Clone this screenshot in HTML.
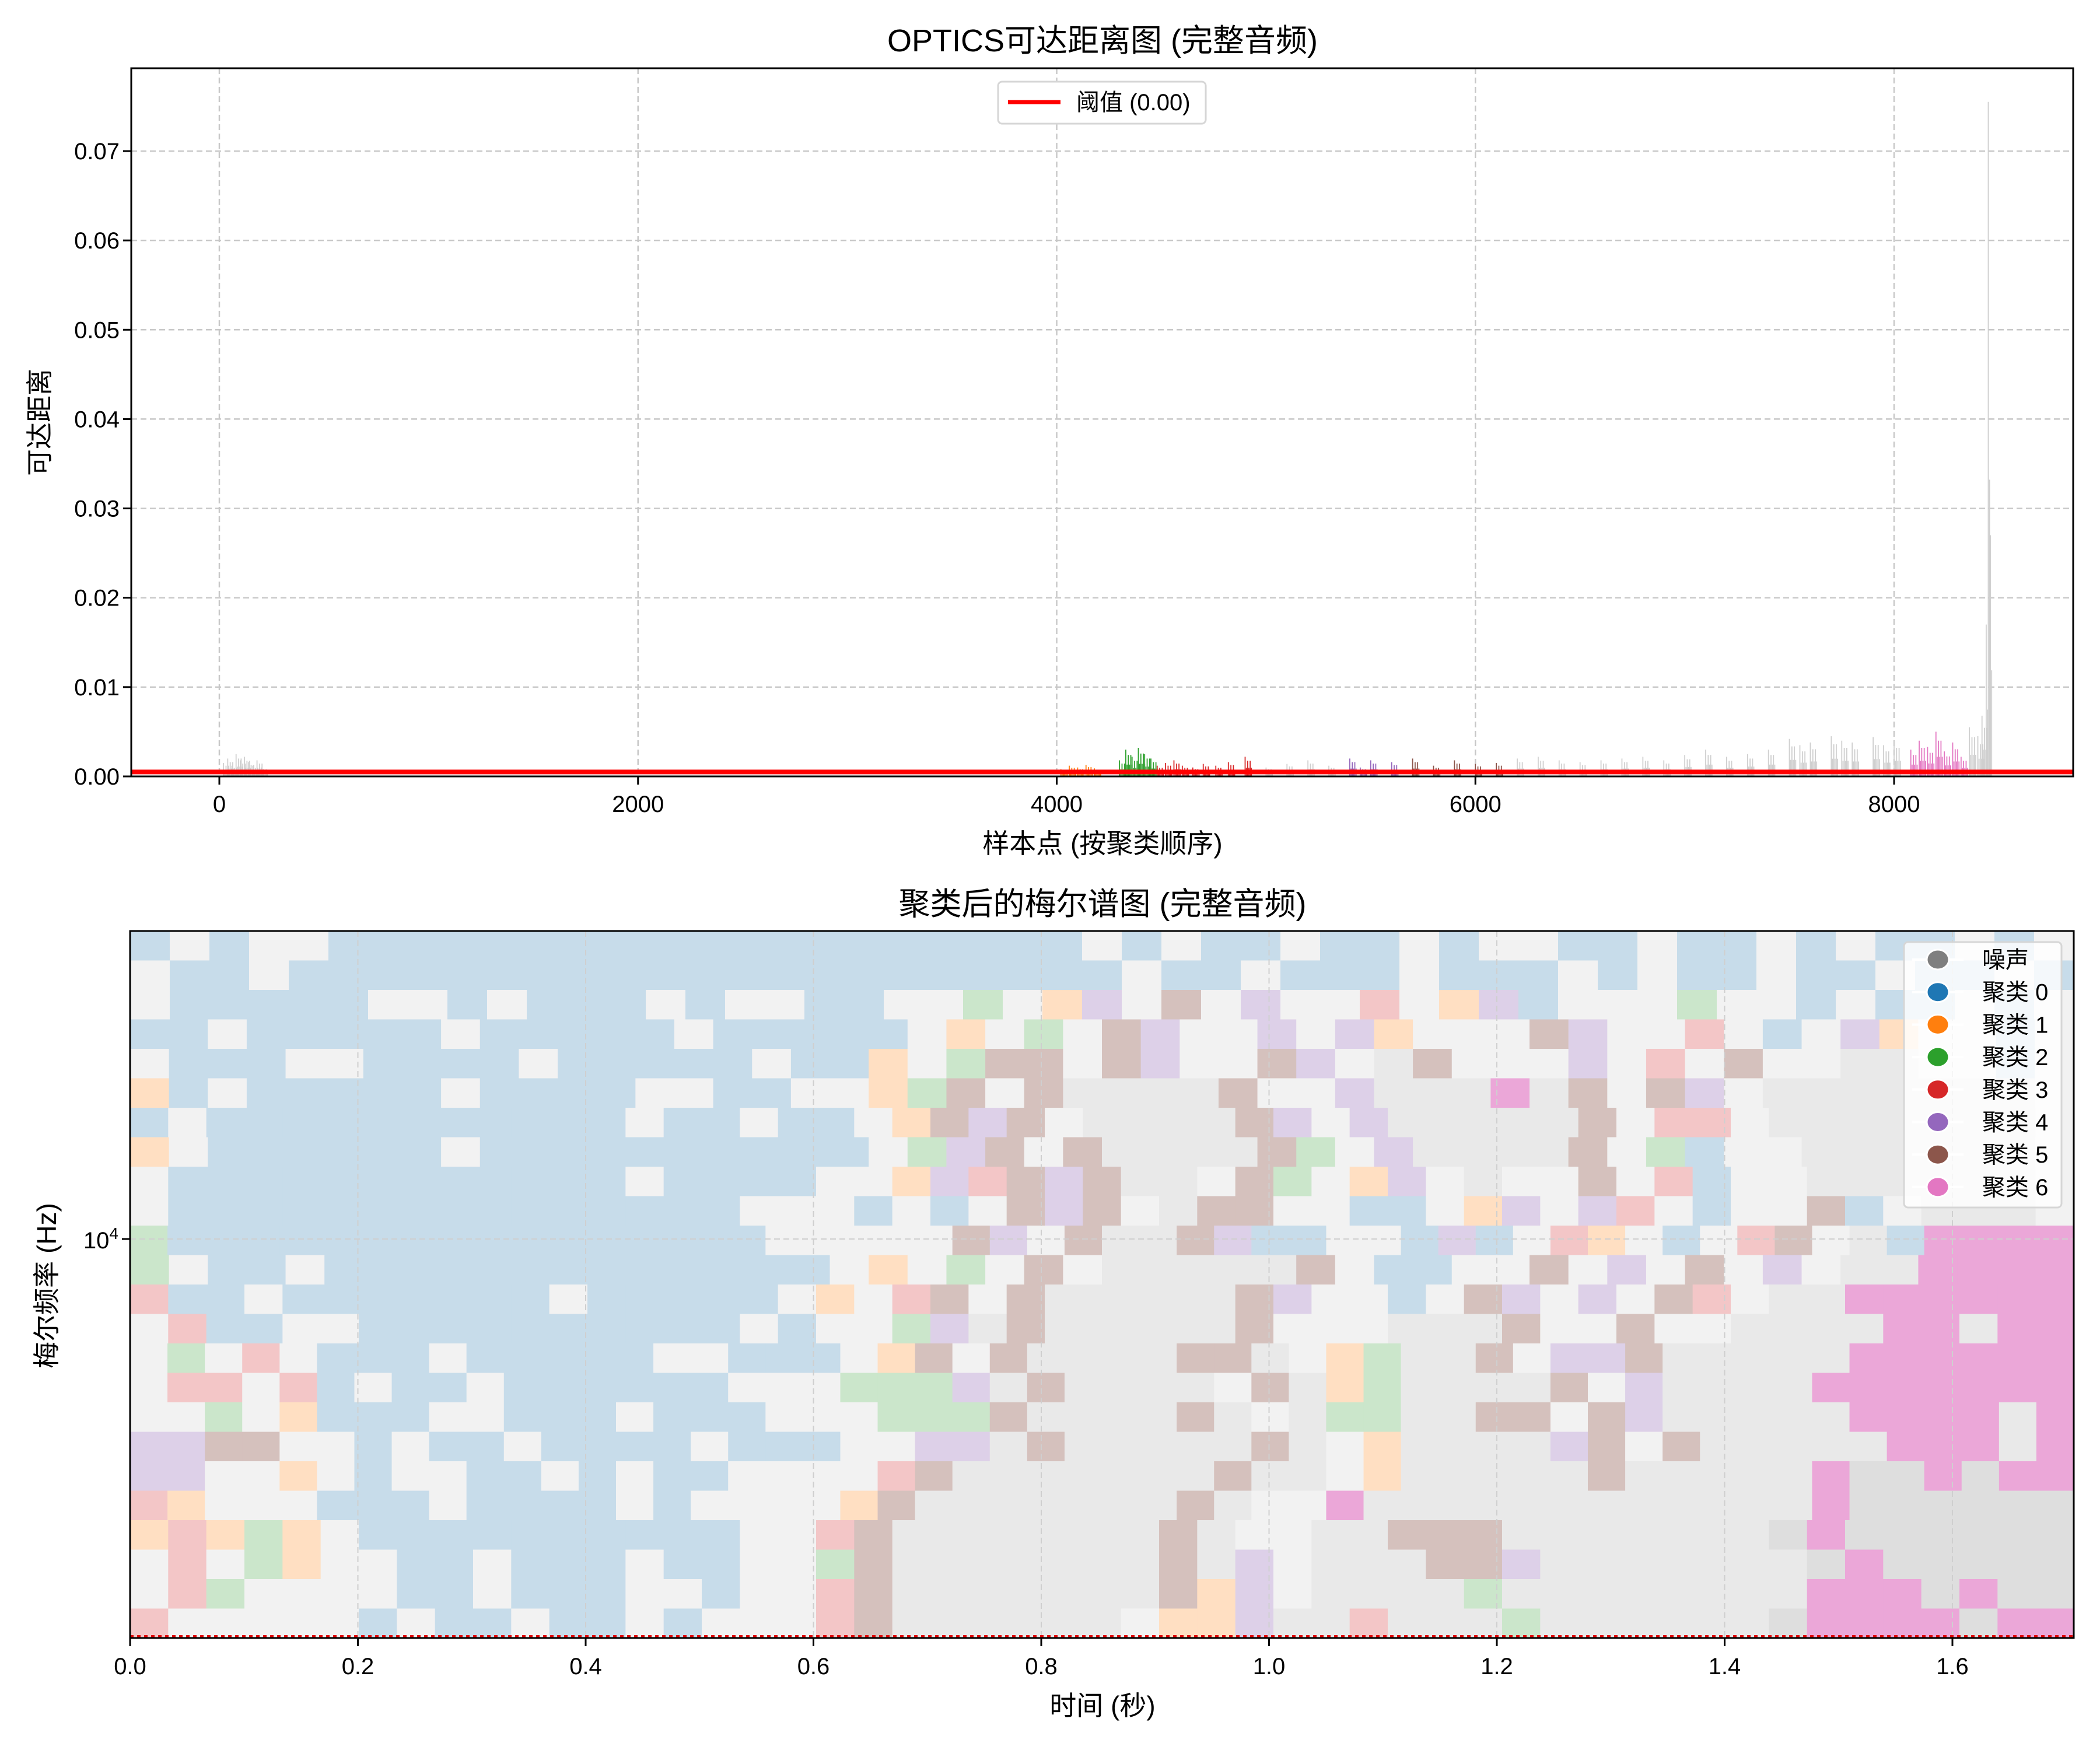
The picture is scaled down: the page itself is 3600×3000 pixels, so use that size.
<!DOCTYPE html>
<html><head><meta charset="utf-8">
<style>
html,body{margin:0;padding:0;background:#fff;}
svg{display:block;font-family:"Liberation Sans","Noto Sans CJK SC",sans-serif;}
</style></head>
<body>
<svg id="fig" width="3600" height="3000" viewBox="0 0 3600 3000" xmlns="http://www.w3.org/2000/svg"></svg>
<script>
// ---------- top chart data ----------
const reachIdx = [20,40,60,80,100,120,140,160,180,200,
 4020,4060,4100,4140,4180,4300,4330,4360,4390,4420,4450,4480,4520,4560,4600,4650,4700,4760,4820,4900,
 5000,5100,5200,5300,5400,5450,5500,5600,5700,5800,5900,6000,6100,6200,6300,6400,6500,6600,6700,6800,6900,7000,7100,7200,7300,7400,7500,7550,7600,7700,7750,7800,7900,7950,8000,
 8080,8120,8160,8200,8240,8280,8320,8360,8400,8420,8440,8450,8460];
const reachVal = [0.0015,0.002,0.0012,0.0025,0.0018,0.0022,0.0016,0.0012,0.0018,0.0010,
 0.0008,0.0012,0.0010,0.0013,0.0009,0.0018,0.0030,0.0022,0.0032,0.0025,0.0020,0.0012,0.0015,0.0018,0.0012,0.0010,0.0014,0.0012,0.0016,0.0022,
 0.0010,0.0014,0.0018,0.0012,0.0020,0.0010,0.0018,0.0016,0.0020,0.0012,0.0018,0.0014,0.0015,0.0020,0.0022,0.0018,0.0016,0.0018,0.0020,0.0022,0.0018,0.0024,0.0030,0.0022,0.0025,0.0030,0.0042,0.0035,0.0038,0.0045,0.0040,0.0038,0.0044,0.0035,0.0040,
 0.0030,0.0040,0.0033,0.0050,0.0028,0.0038,0.0022,0.0055,0.0045,0.0068,0.0170,0.0755,0.0270];
const reachCls = [-1,-1,-1,-1,-1,-1,-1,-1,-1,-1,
 1,1,1,1,1,2,2,2,2,2,2,3,3,3,3,3,3,3,3,3,
 -1,-1,-1,-1,4,4,4,4,5,5,5,5,5,-1,-1,-1,-1,-1,-1,-1,-1,-1,-1,-1,-1,-1,-1,-1,-1,-1,-1,-1,-1,-1,-1,
 6,6,6,6,6,6,6,-1,-1,-1,-1,-1,-1];
const threshold = 0.0005;
const topXTicks = [0,2000,4000,6000,8000];
const topYTicks = [0.00,0.01,0.02,0.03,0.04,0.05,0.06,0.07];

// ---------- bottom chart data ----------
const timeTicks = [0.0,0.2,0.4,0.6,0.8,1.0,1.2,1.4,1.6];
const clusterNames = ["噪声","聚类 0","聚类 1","聚类 2","聚类 3","聚类 4","聚类 5","聚类 6"];
const clusterColors = ["#7f7f7f","#1f77b4","#ff7f0e","#2ca02c","#d62728","#9467bd","#8c564b","#e377c2"];
const labelGrid = [
"bwbwwbbbbbbbbbbbbbbbbbbbwbwbbwbbwbwwbbwbbwbwbbwbw",
"wbbwbbbbbbbbbbbbbbbbbbbbbwbbwbbbwbbbwbwbbwbbwbbwb",
"wbbbbbwwbwbbbwbwwbbwwewouwnwuwwrwoubwwwewwbwbbwbw",
"bbwbbbbbwbbbbbwbbbbbwowewnuwwuwuowwwnuwwrwbwuowwbw",
"wbbbwwbbbbwbbbbbwbbowennwnuwwnuwgnwwwuwrwnwwggwwbw",
"obwbbbbbwbbbbwwbbwwoenwnggggnwwugggpgnwnuwgggggggw",
"bwbbbbbbbbbbbwbbwbbwonunwggggnuwugggggnwrrwgggggggw",
"owbbbbbbwbbbbbbbbbbweunwnggggnewuggggnwebwwggggggw",
"wbbbbbbbbbbbbwbbbbwwournunggwnewouwgwwnwrbwwggggggw",
"wbbbbbbbbbbbbbbbwwwbwbwnunwgnnwwbbwouwurwbwwnbwgggw",
"ebbbbbbbbbbbbbbbbwwwwwnuwnggnubbwwbubwrowbwrnwgbpppp",
"ewbbwbbbbbbbbbbbbbwowewnwgggggnwbbwwnwuwnwuwggpppp",
"rbbwbbbbbbbwbbbbbwowrnwngggggnuwwbwnuwuwnrwggpppppp",
"wrbbwwbbbbbbbbbbwbwweugngggggnwwwgggnwwnwwggggppgpp",
"wewrwbbbwbbbbbwwbbbwonwnggggnngwoeggnwuungggggpppppp",
"wrrwrbwbbwbbbbbbwwweeeugnggggwngoeggggnwuggggppppppp",
"wwewobbbwwbbbwbbbwwweeenggggngwgeeggnnwnugggggppppgp",
"uunnwwbwbbwbbbbwbbbwwuugngggggngwoggggunwngggggpppgp",
"uuwwowbwwbbwbwbbwwwwrngggggggnggwogggggngggggpGGpGpp",
"rowwwbbbwbbbbwbwwwwongggggggngwwpggggggggggggpGGGGGG",
"oroeowbbbbbbbbbbwwrngggggggngwwggnnngggggggGpGGGGGG",
"wrweowwbbwbbbwbbwwengggggggnguwgggnnugggggggGpGGGGG",
"wrewwwwbbwbbbwwbwwrngggggggnouwggggeggggggggpppGpGG",
"rwwwwwbwbbwbbwbwwwrnggggggwoouggrgggeggggggGppppGpp"];
const cellFill = {w:"#f2f2f2",b:"#c7dcea",g:"#e9e9e9",G:"#dedede",n:"#d5c1bd",p:"#eba7d8",o:"#ffdfc2",e:"#cbe6cb",u:"#ddd0e8",r:"#f3c6c7"};

// ---------- drawing ----------
const NS="http://www.w3.org/2000/svg";
const svg=document.getElementById('fig');
function mk(tag,attrs,parent){const e=document.createElementNS(NS,tag);for(const k in attrs)e.setAttribute(k,attrs[k]);(parent||svg).appendChild(e);return e;}

const T={l:225,r:3554,t:117,b:1331};
const xT=v=>376+(v-0)*(3247-376)/8000;
const yT=v=>1331-v*(1331-259)/0.07;

let title1=mk('text',{x:1890,y:88,'font-size':54,'text-anchor':'middle',fill:'#000'});
title1.textContent="OPTICS可达距离图 (完整音频)";



const topGrid=mk('g',{});


topXTicks.forEach(v=>{mk('line',{x1:xT(v),x2:xT(v),y1:T.t,y2:T.b,stroke:'#c8c8c8','stroke-width':2.5,'stroke-dasharray':'10,6'},topGrid);});
topYTicks.forEach(v=>{mk('line',{x1:T.l,x2:T.r,y1:yT(v),y2:yT(v),stroke:'#c8c8c8','stroke-width':2.5,'stroke-dasharray':'10,6'},topGrid);});

const bars=mk('g',{});


reachIdx.forEach((ix,i)=>{
  const c=reachCls[i];
  const col=c<0?'#cfcfcf':clusterColors[c+1];
  const n=reachVal[i]>0.01?2:6;
  for(let k=0;k<n;k++){
    const xi=ix+k*6;
    const h=reachVal[i]*(k%2?0.55:1)*(k===0?1:0.8);
    const b=mk('line',{x1:xT(xi),x2:xT(xi),y1:yT(0),y2:yT(h),stroke:col,'stroke-width':1.8},bars);
    
    
  }
});
const th=mk('line',{x1:T.l,x2:T.r,y1:yT(threshold),y2:yT(threshold),stroke:'#ff0000','stroke-width':8});



let frame1=mk('rect',{x:T.l,y:T.t,width:T.r-T.l,height:T.b-T.t,fill:'none',stroke:'#000','stroke-width':3});



topXTicks.forEach(v=>{
  mk('line',{x1:xT(v),x2:xT(v),y1:T.b,y2:T.b+14,stroke:'#000','stroke-width':3});
  const t=mk('text',{x:xT(v),y:1392,'font-size':40,'text-anchor':'middle'});t.textContent=String(v);
  
  
});
topYTicks.forEach(v=>{
  mk('line',{x1:T.l-14,x2:T.l,y1:yT(v),y2:yT(v),stroke:'#000','stroke-width':3});
  const t=mk('text',{x:T.l-20,y:yT(v)+14,'font-size':40,'text-anchor':'end'});t.textContent=v.toFixed(2);
  
  
});
let xl1=mk('text',{x:1890,y:1462,'font-size':46,'text-anchor':'middle'});xl1.textContent="样本点 (按聚类顺序)";


let yl1=mk('text',{x:0,y:0,'font-size':46,'text-anchor':'middle',transform:'translate(84,724) rotate(-90)'});yl1.textContent="可达距离";



const lg1=mk('g',{});


mk('rect',{x:1711,y:140,width:356,height:72,rx:7,fill:'#fff',stroke:'#d6d6d6','stroke-width':3},lg1);
mk('line',{x1:1728,x2:1818,y1:175,y2:175,stroke:'#ff0000','stroke-width':7},lg1);
let lt=mk('text',{x:1845,y:189,'font-size':40},lg1);lt.textContent="阈值 (0.00)";

const B={l:223,r:3555,t:1596,b:2808};
const xB=v=>223+v*(3347-223)/1.6;
let title2=mk('text',{x:1890,y:1568,'font-size':54,'text-anchor':'middle'});title2.textContent="聚类后的梅尔谱图 (完整音频)";



const heat=mk('g',{});


const nRows=labelGrid.length;
const rh=(B.b-B.t)/nRows;
labelGrid.forEach((row,r)=>{
  const nC=row.length, cw=(B.r-B.l)/nC;
  for(let c=0;c<nC;c++){
    const ch=row[c];
    const cell=mk('rect',{x:B.l+c*cw,y:B.t+r*rh,width:cw+0.6,height:rh+0.6,fill:cellFill[ch]||'#f2f2f2'},heat);
    
    
  }
});
const g2=mk('g',{});


timeTicks.forEach(v=>{mk('line',{x1:xB(v),x2:xB(v),y1:B.t,y2:B.b,stroke:'#cfcfcf','stroke-width':2,'stroke-dasharray':'10,6'},g2);});
mk('line',{x1:B.l,x2:B.r,y1:2124,y2:2124,stroke:'#cfcfcf','stroke-width':2,'stroke-dasharray':'10,6'},g2);
const rl=mk('line',{x1:B.l,x2:B.r,y1:B.b-3,y2:B.b-3,stroke:'#e00000','stroke-width':4,'stroke-dasharray':'6,6'});


let frame2=mk('rect',{x:B.l,y:B.t,width:B.r-B.l,height:B.b-B.t,fill:'none',stroke:'#000','stroke-width':3});


timeTicks.forEach(v=>{
  mk('line',{x1:xB(v),x2:xB(v),y1:B.b,y2:B.b+14,stroke:'#000','stroke-width':3});
  const t=mk('text',{x:xB(v),y:2870,'font-size':40,'text-anchor':'middle'});t.textContent=v.toFixed(1);
  
  
});
mk('line',{x1:B.l-14,x2:B.l,y1:2124,y2:2124,stroke:'#000','stroke-width':3});
let yt=mk('text',{x:B.l-20,y:2140,'font-size':40,'text-anchor':'end'});
yt.innerHTML='10<tspan dy="-16" font-size="28">4</tspan>';


let xl2=mk('text',{x:1890,y:2940,'font-size':46,'text-anchor':'middle'});xl2.textContent="时间 (秒)";


let yl2=mk('text',{x:0,y:0,'font-size':46,'text-anchor':'middle',transform:'translate(96,2204) rotate(-90)'});yl2.textContent="梅尔频率 (Hz)";



const lg2=mk('g',{});


mk('rect',{x:3264,y:1615,width:270,height:455,rx:7,fill:'#ffffff','fill-opacity':0.8,stroke:'#d6d6d6','stroke-width':3},lg2);
clusterNames.forEach((n,i)=>{
  const y=1645+i*55.7;
  const e=mk('g',{},lg2);
  
  
  mk('line',{x1:3278,x2:3366,y1:y,y2:y,stroke:'#ffffff','stroke-width':4},e);
  mk('ellipse',{cx:3322,cy:y,rx:19,ry:17,fill:clusterColors[i],stroke:'#fff','stroke-width':3},e);
  const t=mk('text',{x:3398,y:y+14,'font-size':40},e);t.textContent=n;
});
</script>
</body></html>
